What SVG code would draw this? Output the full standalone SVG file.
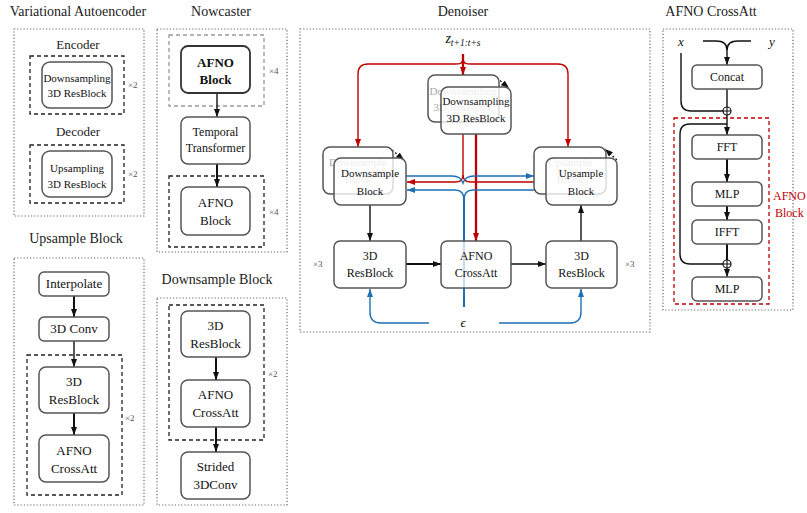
<svg xmlns="http://www.w3.org/2000/svg" width="807" height="513" viewBox="0 0 807 513">
<style>
text{font-family:"Liberation Serif","Times New Roman",serif;fill:#111}
.title{font-size:14px;text-anchor:middle;fill:#222}
.sub{font-size:13px;text-anchor:middle;fill:#222}
.panel{fill:none;stroke:#666;stroke-width:1.2;stroke-dasharray:1.2 2}
.grp{fill:none;stroke:#222;stroke-width:1.3;stroke-dasharray:4 3}
.box{fill:#fff;stroke:#555;stroke-width:1.5}
.front{fill:#fff;fill-opacity:0.78;stroke:#555;stroke-width:1.5}
.semi{fill:#fff;fill-opacity:0.75;stroke:#555;stroke-width:1.5}
.t{text-anchor:middle}
.s11{font-size:11px}
.s12{font-size:12px}
.s13{font-size:13px}
.faded{fill:#aaa}
.mult{font-size:9px;fill:#555}
.blk{fill:none;stroke:#111;stroke-width:1.4}
.thk{fill:none;stroke:#111;stroke-width:2}
.red{fill:none;stroke:#c00000;stroke-width:1.4}
.redthk{fill:none;stroke:#c00000;stroke-width:2.3}
.blue{fill:none;stroke:#1f6fb2;stroke-width:1.4}
.bluethk{fill:none;stroke:#1f6fb2;stroke-width:2}
.dsh{fill:none;stroke:#111;stroke-width:1.2;stroke-dasharray:2 2}
</style>
<defs>
<marker id="ab" markerWidth="8" markerHeight="6" refX="8" refY="3" orient="auto" markerUnits="userSpaceOnUse"><path d="M0,0 L8,3 L0,6 z" fill="#111"/></marker>
<marker id="ar" markerWidth="8" markerHeight="6" refX="8" refY="3" orient="auto" markerUnits="userSpaceOnUse"><path d="M0,0 L8,3 L0,6 z" fill="#c00000"/></marker>
<marker id="au" markerWidth="8" markerHeight="6" refX="8" refY="3" orient="auto" markerUnits="userSpaceOnUse"><path d="M0,0 L8,3 L0,6 z" fill="#1f6fb2"/></marker>
</defs>
<rect width="807" height="513" fill="#fff"/>

<!-- titles and panels -->
<g id="panels">
<text class="title" x="78" y="16">Variational Autoencoder</text>
<text class="title" x="221" y="16">Nowcaster</text>
<text class="title" x="463" y="16">Denoiser</text>
<text class="title" x="711" y="16">AFNO CrossAtt</text>
<text class="title" x="76" y="243">Upsample Block</text>
<text class="title" x="217" y="284">Downsample Block</text>
<rect class="panel" x="14" y="29" width="130" height="187"/>
<rect class="panel" x="157" y="29" width="130" height="223"/>
<rect class="panel" x="300" y="29" width="350" height="303"/>
<rect class="panel" x="663" y="29" width="130" height="281"/>
<rect class="panel" x="14" y="258" width="130" height="247"/>
<rect class="panel" x="157" y="298" width="130" height="207"/>
<text class="sub" x="78" y="49">Encoder</text>
<text class="sub" x="78" y="136">Decoder</text>
<rect class="grp" x="30" y="56" width="94" height="58"/>
<rect class="grp" x="30" y="145" width="94" height="58"/>
<rect class="grp" x="169" y="35" width="95" height="71" style="stroke:#999"/>
<rect class="grp" x="169" y="176" width="95" height="71"/>
<rect class="grp" x="27" y="355" width="95" height="140"/>
<rect class="grp" x="169" y="305" width="95" height="135"/>
<rect x="674" y="118" width="95" height="186" fill="none" stroke="#c00000" stroke-width="1.3" stroke-dasharray="4 3"/>
<text class="mult" x="128" y="88">×2</text>
<text class="mult" x="128" y="177">×2</text>
<text class="mult" x="269" y="74">×4</text>
<text class="mult" x="269" y="215">×4</text>
<text class="mult" x="125" y="421">×2</text>
<text class="mult" x="268" y="377">×2</text>
<text class="mult" x="313" y="267">×3</text>
<text class="mult" x="625" y="267">×3</text>
<text x="773" y="200" style="font-size:12px;fill:#c00000">AFNO</text>
<text x="775" y="217" style="font-size:12px;fill:#c00000">Block</text>
</g>

<g id="connectors">
<!-- Nowcaster -->
<path class="blk" d="M217,93 L217,117" marker-end="url(#ab)"/>
<path class="thk" d="M217,164 L217,187" marker-end="url(#ab)"/>
<!-- Upsample -->
<path class="thk" d="M74,296 L74,317" marker-end="url(#ab)"/>
<path class="blk" d="M74,341 L74,367" marker-end="url(#ab)"/>
<path class="thk" d="M74,413 L74,435" marker-end="url(#ab)"/>
<!-- Downsample -->
<path class="thk" d="M216,357 L216,380" marker-end="url(#ab)"/>
<path class="thk" d="M216,427 L216,452" marker-end="url(#ab)"/>
<!-- Denoiser red -->
<path class="redthk" d="M463,54 L463,75" marker-end="url(#ar)"/>
<path class="red" d="M463,59 C463,64 459,64 455,64 L368,64 Q358,64 358,74 L358,147" marker-end="url(#ar)"/>
<path class="red" d="M463,59 C463,64 467,64 471,64 L558,64 Q568,64 568,74 L568,147" marker-end="url(#ar)"/>
<path class="red" d="M463,134 L463,175 Q463,182 455,182 L407,182" marker-end="url(#ar)"/>
<path class="red" d="M463,175 Q463,182 471,182 L546,182" marker-end="url(#ar)"/>
<path class="redthk" d="M476,134 L476,241" marker-end="url(#ar)"/>
<!-- Denoiser blue -->
<path class="blue" d="M406,176 L452,176 Q461,176 463,183 Q465,176 474,176 L534,176" marker-end="url(#au)"/>
<path class="blue" d="M464,200 Q464,190 455,190 L407,190" marker-end="url(#au)"/>
<path class="blue" d="M464,200 Q464,190 473,190 L546,190" marker-end="url(#au)"/>
<path class="bluethk" d="M464,198 L464,307"/>
<path class="blue" d="M429,323 L381,323 Q370,323 370,312 L370,289" marker-end="url(#au)"/>
<path class="blue" d="M499,323 L570,323 Q581,323 581,312 L581,289" marker-end="url(#au)"/>
<!-- Denoiser black -->
<path class="blk" d="M370,205 L370,241" marker-end="url(#ab)"/>
<path class="thk" d="M406,264 L441,264" marker-end="url(#ab)"/>
<path class="blk" d="M511,264 L546,264" marker-end="url(#ab)"/>
<path class="blk" d="M581,241 L581,205" marker-end="url(#ab)"/>
<path class="dsh" d="M497,78 L509,88" marker-end="url(#ab)"/>
<path class="dsh" d="M392,150 L404,160" marker-end="url(#ab)"/>
<path class="dsh" d="M617,160 L605,149" marker-end="url(#ab)"/>
<!-- AFNO CrossAtt -->
<path class="blk" d="M703,41 L716,41 Q727,41 727,50 Q727,41 738,41 L751,41"/>
<path class="blk" d="M727,48 L727,65" marker-end="url(#ab)"/>
<path class="blk" d="M727,89 L727,107"/>
<path class="blk" d="M681,53 L681,101 Q681,111 691,111 L723,111"/>
<path class="blk" d="M727,115 L727,135" marker-end="url(#ab)"/>
<path class="blk" d="M727,124 L690,124 Q680,124 680,134 L680,254 Q680,264 690,264 L723,264"/>
<path class="thk" d="M727,159 L727,182" marker-end="url(#ab)"/>
<path class="thk" d="M727,206 L727,220" marker-end="url(#ab)"/>
<path class="thk" d="M727,244 L727,260"/>
<path class="blk" d="M727,268 L727,277" marker-end="url(#ab)"/>
</g>

<!-- VAE nodes -->
<g id="vae-encoder">
<rect class="box" x="42" y="62" width="70" height="46" rx="8"/>
<text class="t s11" x="77" y="82">Downsampling</text>
<text class="t s11" x="77" y="97">3D ResBlock</text>
</g>
<g id="vae-decoder">
<rect class="box" x="42" y="151" width="70" height="46" rx="8"/>
<text class="t s11" x="77" y="172">Upsampling</text>
<text class="t s11" x="77" y="188">3D ResBlock</text>
</g>

<!-- Nowcaster nodes -->
<g id="now-afno1">
<rect class="box" x="181" y="46" width="69" height="47" rx="7" style="stroke:#333;stroke-width:1.8"/>
<text class="t s13" x="215.5" y="67" font-weight="bold">AFNO</text>
<text class="t s13" x="215.5" y="84" font-weight="bold">Block</text>
</g>
<g id="now-temporal">
<rect class="box" x="181" y="117" width="69" height="47" rx="7"/>
<text class="t s12" x="215.5" y="136">Temporal</text>
<text class="t s12" x="215.5" y="152">Transformer</text>
</g>
<g id="now-afno2">
<rect class="box" x="181" y="187" width="69" height="48" rx="7"/>
<text class="t s13" x="215.5" y="207">AFNO</text>
<text class="t s13" x="215.5" y="225">Block</text>
</g>

<!-- Upsample Block nodes -->
<g id="up-interp">
<rect class="box" x="39" y="272" width="70" height="24" rx="5"/>
<text class="t s13" x="74" y="288">Interpolate</text>
</g>
<g id="up-conv">
<rect class="box" x="39" y="317" width="70" height="24" rx="5"/>
<text class="t s13" x="74" y="333">3D Conv</text>
</g>
<g id="up-res">
<rect class="box" x="39" y="367" width="70" height="46" rx="7"/>
<text class="t s13" x="74" y="386">3D</text>
<text class="t s13" x="74" y="404">ResBlock</text>
</g>
<g id="up-afno">
<rect class="box" x="39" y="435" width="70" height="47" rx="7"/>
<text class="t s13" x="74" y="455">AFNO</text>
<text class="t s13" x="74" y="473">CrossAtt</text>
</g>

<!-- Downsample Block nodes -->
<g id="down-res">
<rect class="box" x="181" y="311" width="69" height="46" rx="7"/>
<text class="t s13" x="215.5" y="330">3D</text>
<text class="t s13" x="215.5" y="348">ResBlock</text>
</g>
<g id="down-afno">
<rect class="box" x="181" y="380" width="69" height="47" rx="7"/>
<text class="t s13" x="215.5" y="399">AFNO</text>
<text class="t s13" x="215.5" y="417">CrossAtt</text>
</g>
<g id="down-strided">
<rect class="box" x="181" y="452" width="69" height="47" rx="7"/>
<text class="t s13" x="215.5" y="471">Strided</text>
<text class="t s13" x="215.5" y="489">3DConv</text>
</g>

<!-- Denoiser nodes -->
<g id="den-z">
<text x="463" y="43" text-anchor="middle" style="font-size:14px;font-style:italic">z<tspan dy="3" style="font-size:9.5px">t+1:t+s</tspan></text>
</g>
<g id="den-eps">
<text x="463" y="327" text-anchor="middle" style="font-size:13px;font-style:italic">ϵ</text>
</g>
<g id="den-top">
<rect class="box" x="428" y="75" width="71" height="47" rx="7"/>
<text class="t s11 faded" x="463" y="95">Downsampling</text>
<text class="t s11 faded" x="463" y="111">3D ResBlock</text>
<rect class="front" x="441" y="87" width="70" height="47" rx="7"/>
<text class="t s11" x="476" y="105">Downsampling</text>
<text class="t s11" x="476" y="122">3D ResBlock</text>
</g>
<g id="den-downsample">
<rect class="box" x="323" y="147" width="70" height="47" rx="7"/>
<text class="t s11 faded" x="358" y="166">Downsample</text>
<text class="t s11 faded" x="358" y="183">Block</text>
<rect class="front" x="334" y="158" width="72" height="47" rx="7"/>
<text class="t s11" x="370" y="177">Downsample</text>
<text class="t s11" x="370" y="195">Block</text>
</g>
<g id="den-upsample">
<rect class="box" x="534" y="147" width="72" height="47" rx="7"/>
<text class="t s11 faded" x="570" y="166">Upsample</text>
<text class="t s11 faded" x="570" y="183">Block</text>
<rect class="front" x="546" y="158" width="71" height="47" rx="7"/>
<text class="t s11" x="581" y="177">Upsample</text>
<text class="t s11" x="581" y="195">Block</text>
</g>
<g id="den-res-left">
<rect class="box" x="334" y="241" width="72" height="47" rx="6"/>
<text class="t s12" x="370" y="260">3D</text>
<text class="t s12" x="370" y="277">ResBlock</text>
</g>
<g id="den-afno">
<rect class="semi" x="441" y="241" width="70" height="47" rx="6"/>
<text class="t s12" x="476" y="260">AFNO</text>
<text class="t s12" x="476" y="277">CrossAtt</text>
</g>
<g id="den-res-right">
<rect class="box" x="546" y="241" width="71" height="47" rx="6"/>
<text class="t s12" x="581.5" y="260">3D</text>
<text class="t s12" x="581.5" y="277">ResBlock</text>
</g>

<!-- AFNO CrossAtt nodes -->
<g id="ca-x"><text x="681" y="46" text-anchor="middle" style="font-size:13px;font-style:italic">x</text></g>
<g id="ca-y"><text x="772" y="46" text-anchor="middle" style="font-size:13px;font-style:italic">y</text></g>
<g id="ca-concat">
<rect class="box" x="692" y="65" width="70" height="24" rx="5"/>
<text class="t s12" x="727" y="81">Concat</text>
</g>
<g id="ca-plus1">
<circle cx="727" cy="111" r="4" fill="#fff" stroke="#111" stroke-width="1.2"/>
<path d="M723,111 L731,111 M727,107 L727,115" stroke="#111" stroke-width="1.1"/>
</g>
<g id="ca-fft">
<rect class="box" x="692" y="135" width="70" height="24" rx="5"/>
<text class="t s12" x="727" y="151">FFT</text>
</g>
<g id="ca-mlp1">
<rect class="box" x="692" y="182" width="70" height="24" rx="5"/>
<text class="t s12" x="727" y="198">MLP</text>
</g>
<g id="ca-ifft">
<rect class="box" x="692" y="220" width="70" height="24" rx="5"/>
<text class="t s12" x="727" y="236">IFFT</text>
</g>
<g id="ca-plus2">
<circle cx="727" cy="264" r="4" fill="#fff" stroke="#111" stroke-width="1.2"/>
<path d="M723,264 L731,264 M727,260 L727,268" stroke="#111" stroke-width="1.1"/>
</g>
<g id="ca-mlp2">
<rect class="box" x="692" y="277" width="70" height="24" rx="5"/>
<text class="t s12" x="727" y="293">MLP</text>
</g>
</svg>
